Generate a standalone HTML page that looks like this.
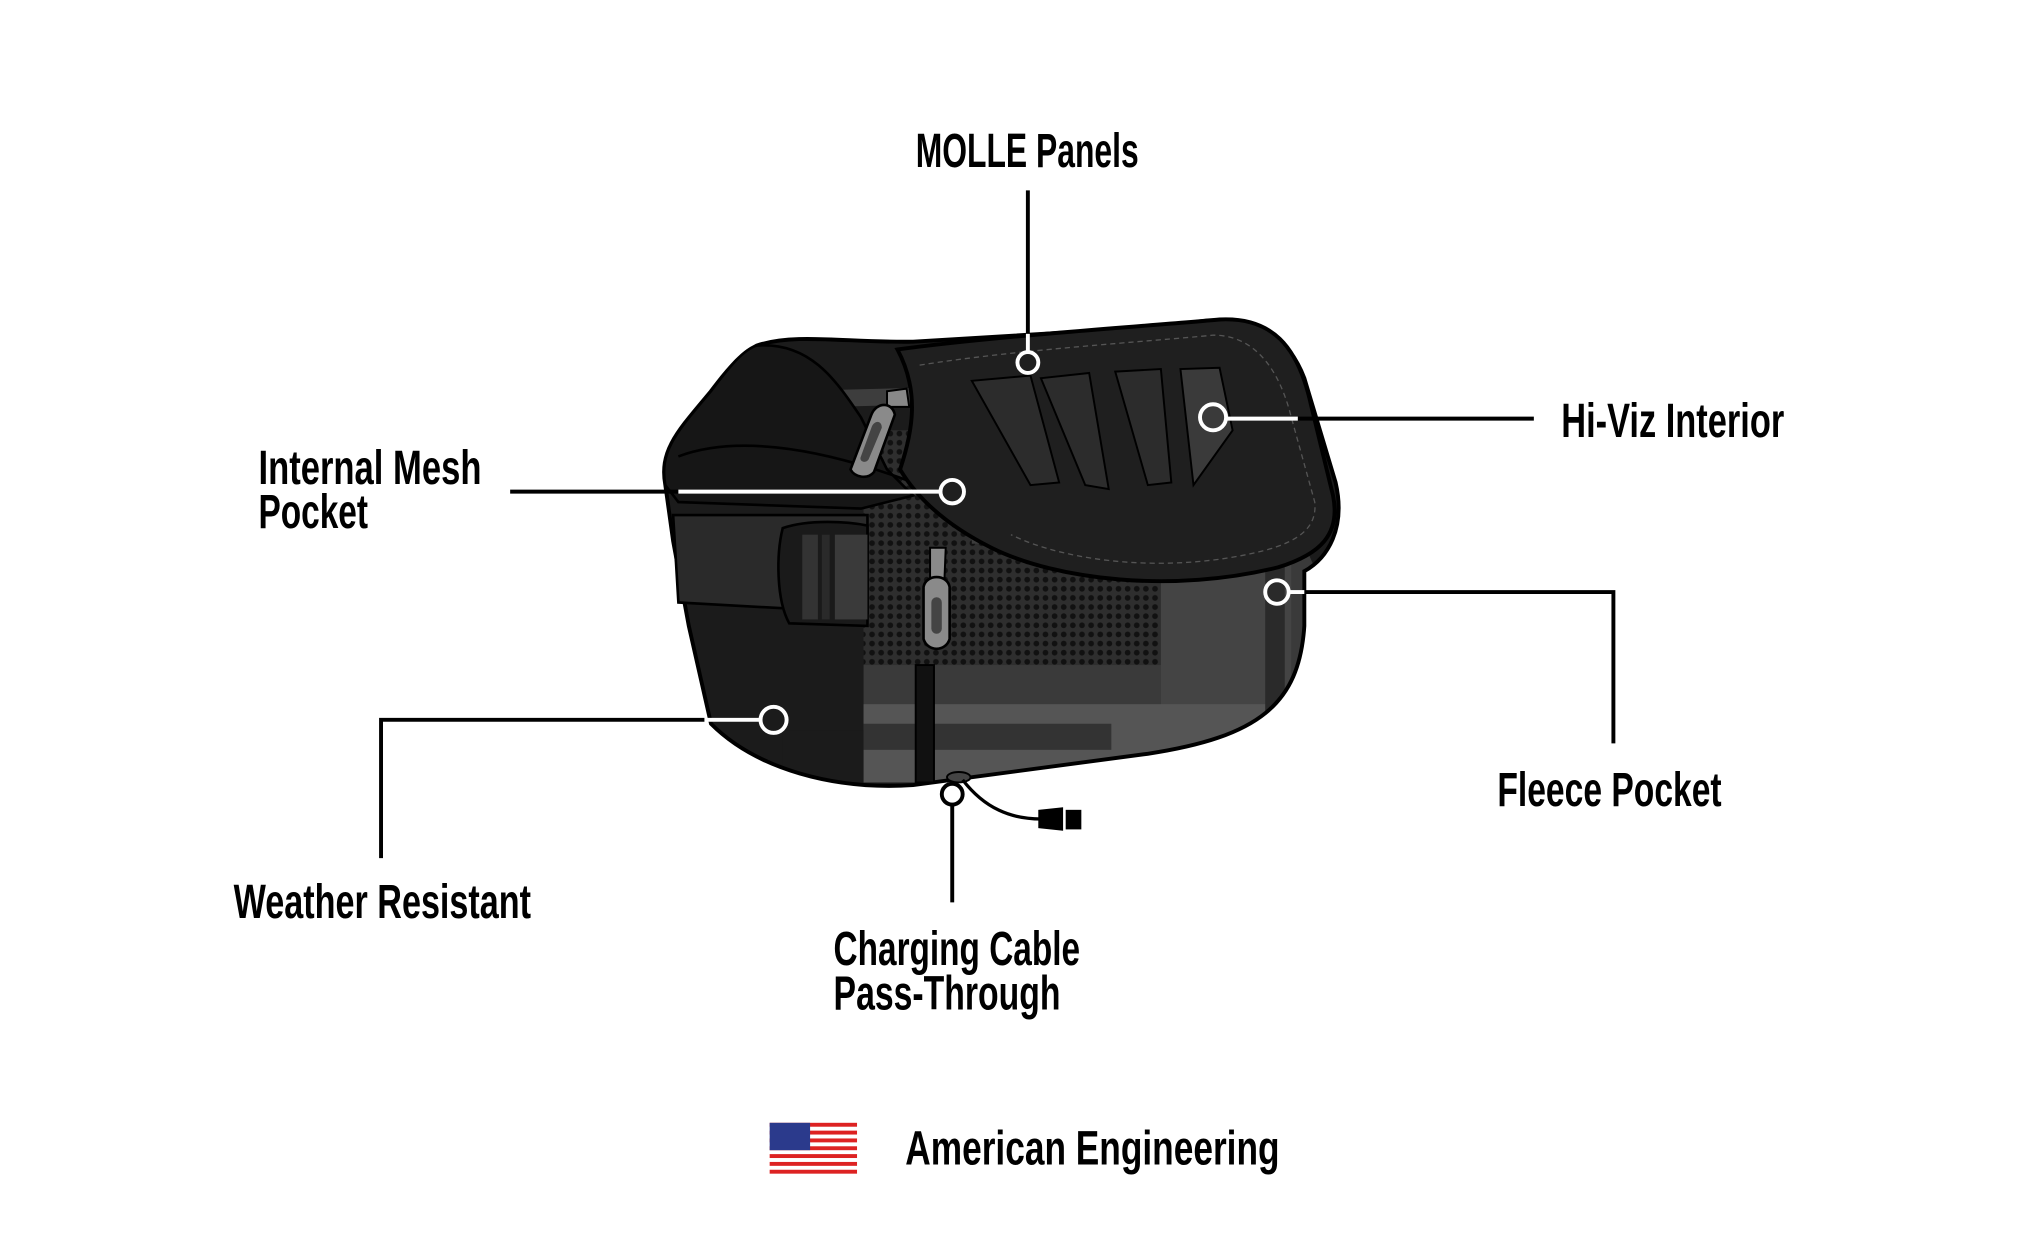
<!DOCTYPE html>
<html><head><meta charset="utf-8"><style>
html,body{margin:0;padding:0;background:#fff;}
svg{display:block;}
text{font-family:"Liberation Sans Narrow","Liberation Sans",sans-serif;font-weight:bold;fill:#000;font-size:37px;}
</style></head><body>
<svg width="2044" height="1248" viewBox="0 0 1567 957" xmlns="http://www.w3.org/2000/svg">
<defs>
<pattern id="mesh" width="7" height="7" patternUnits="userSpaceOnUse">
<rect width="7" height="7" fill="#2e2e2e"/><circle cx="3.5" cy="3.5" r="2.2" fill="#111"/>
</pattern>
<clipPath id="body">
<path d="M580,265 C610,255 650,263 700,262 L900,250 C950,238 985,250 1000,290 L1024,370 C1032,405 1018,428 1000,438 L1000,480 C996,540 965,565 880,578 L700,602 C640,606 580,590 545,555 L528,480 L516,415 L510,372 C505,345 520,330 545,300 C560,280 570,270 580,265 Z"/>
</clipPath>
</defs>
<!-- bag body -->
<path d="M580,265 C610,255 650,263 700,262 L900,250 C950,238 985,250 1000,290 L1024,370 C1032,405 1018,428 1000,438 L1000,480 C996,540 965,565 880,578 L700,602 C640,606 580,590 545,555 L528,480 L516,415 L510,372 C505,345 520,330 545,300 C560,280 570,270 580,265 Z" fill="#1b1b1b"/>
<g clip-path="url(#body)">
<path d="M662,400 L990,395 L1010,440 L1010,600 L662,600 Z" fill="#3a3a3a"/>
<rect x="662" y="330" width="230" height="180" fill="url(#mesh)"/>
<rect x="890" y="400" width="100" height="190" fill="#444"/>
<rect x="662" y="540" width="340" height="60" fill="#555"/>
<rect x="662" y="555" width="190" height="20" fill="#333"/>
<path d="M600,300 L990,290 L990,303 L600,313 Z" fill="#3d3d3d"/>
<path d="M745,405 L985,398 L985,410 L745,417 Z" fill="#3d3d3d"/>
<path d="M970,395 L985,395 L985,600 L970,600 Z" fill="#2a2a2a"/>
<rect x="600" y="560" width="62" height="50" fill="#1b1b1b"/>
</g>
<path d="M580,265 C610,255 650,263 700,262 L900,250 C950,238 985,250 1000,290 L1024,370 C1032,405 1018,428 1000,438 L1000,480 C996,540 965,565 880,578 L700,602 C640,606 580,590 545,555 L528,480 L516,415 L510,372 C505,345 520,330 545,300 C560,280 570,270 580,265 Z" fill="none" stroke="#000" stroke-width="3"/>
<!-- left lobe -->
<path d="M580,265 C620,262 640,290 660,320 L680,360 L700,380 L660,390 L520,385 L510,372 C505,345 520,330 545,300 C560,280 570,268 580,265 Z" fill="#161616" stroke="#000" stroke-width="2"/>
<path d="M520,350 C560,335 620,340 700,370" fill="none" stroke="#000" stroke-width="2"/>
<!-- flap -->
<path d="M688,268 C760,258 880,250 935,245 C975,243 995,265 1005,310 L1022,380 C1028,410 1012,425 980,435 C900,455 810,445 760,420 C730,405 705,385 690,360 C700,330 705,300 688,268 Z" fill="#1f1f1f" stroke="#000" stroke-width="3"/>
<path d="M705,280 C780,268 880,262 930,257 C960,257 980,280 990,320 L1008,385 C1010,405 995,415 970,422 C900,440 820,432 775,410" fill="none" stroke="#555" stroke-width="1" stroke-dasharray="4 3"/>
<!-- MOLLE slots -->
<path d="M745,292 L790,288 L812,370 L790,372 Z" fill="#2c2c2c" stroke="#000" stroke-width="1.5"/>
<path d="M798,290 L835,286 L850,375 L832,372 Z" fill="#2c2c2c" stroke="#000" stroke-width="1.5"/>
<path d="M855,285 L890,283 L898,370 L880,372 Z" fill="#2c2c2c" stroke="#000" stroke-width="1.5"/>
<path d="M905,283 L935,282 L945,330 L915,372 Z" fill="#3a3a3a" stroke="#000" stroke-width="1.5"/>
<!-- strap -->
<path d="M516,395 L665,395 L665,470 L520,462 Z" fill="#2a2a2a" stroke="#000" stroke-width="2"/>
<path d="M600,405 C620,398 650,400 665,403 L665,480 L605,478 C595,460 595,425 600,405 Z" fill="#1a1a1a" stroke="#000" stroke-width="2"/>
<rect x="615" y="410" width="12" height="65" fill="#333"/>
<rect x="630" y="410" width="6" height="65" fill="#2a2a2a"/>
<rect x="640" y="410" width="25" height="65" fill="#3a3a3a"/>
<rect x="702" y="510" width="14" height="90" fill="#111" stroke="#000" stroke-width="1.5"/>
<!-- zipper pulls -->
<path d="M680,300 L695,298 L697,312 L680,312 Z" fill="#888" stroke="#000" stroke-width="1.5"/>
<path d="M668,318 C672,308 684,308 686,318 L670,362 C665,368 655,366 652,360 Z" fill="#8a8a8a" stroke="#000" stroke-width="2"/>
<path d="M668,328 C670,322 676,322 676,328 L666,352 C664,356 658,354 660,350 Z" fill="#444"/>
<path d="M713,420 L725,420 L724,445 L713,445 Z" fill="#8a8a8a" stroke="#000" stroke-width="1.5"/>
<path d="M708,450 C710,440 726,440 728,450 L728,490 C725,500 711,500 708,490 Z" fill="#8a8a8a" stroke="#000" stroke-width="2"/>
<rect x="714" y="458" width="8" height="28" rx="4" fill="#444"/>
<!-- cable -->
<ellipse cx="735" cy="596" rx="9" ry="4" fill="#444" stroke="#000" stroke-width="1.5"/>
<path d="M738,598 C755,620 775,628 798,628" fill="none" stroke="#000" stroke-width="2.5"/>
<path d="M796,621 L815,619 L815,637 L796,635 Z" fill="#000"/>
<rect x="817" y="621" width="12" height="15" fill="#000"/>
<!-- callout lines -->
<g stroke="#000" stroke-width="3" fill="none">
<line x1="788" y1="146" x2="788" y2="256"/>
<line x1="995" y1="321" x2="1176" y2="321"/>
<line x1="391" y1="377" x2="520" y2="377"/>
<polyline points="1000,454 1237,454 1237,570"/>
<polyline points="292,658 292,552 540,552"/>
<line x1="730" y1="617" x2="730" y2="692"/>
</g>
<g stroke="#fff" stroke-width="3" fill="none">
<line x1="788" y1="256" x2="788" y2="270"/>
<line x1="939" y1="321" x2="995" y2="321"/>
<line x1="520" y1="377" x2="721" y2="377"/>
<line x1="988" y1="454" x2="1000" y2="454"/>
<line x1="540" y1="552" x2="583" y2="552"/>
<circle cx="788" cy="278" r="8"/>
<circle cx="930" cy="320" r="10"/>
<circle cx="730" cy="377" r="9"/>
<circle cx="979" cy="454" r="9"/>
<circle cx="593" cy="552" r="10"/>
</g>
<circle cx="730" cy="609" r="8" fill="#fff" stroke="#000" stroke-width="3"/>
<!-- labels -->
<text x="702" y="128" textLength="171" lengthAdjust="spacingAndGlyphs">MOLLE Panels</text>
<text x="1197" y="335" textLength="171" lengthAdjust="spacingAndGlyphs">Hi-Viz Interior</text>
<text x="198" y="371" textLength="171" lengthAdjust="spacingAndGlyphs">Internal Mesh</text>
<text x="198" y="405" textLength="84" lengthAdjust="spacingAndGlyphs">Pocket</text>
<text x="1148" y="618" textLength="172" lengthAdjust="spacingAndGlyphs">Fleece Pocket</text>
<text x="179" y="704" textLength="228" lengthAdjust="spacingAndGlyphs">Weather Resistant</text>
<text x="639" y="740" textLength="189" lengthAdjust="spacingAndGlyphs">Charging Cable</text>
<text x="639" y="774" textLength="174" lengthAdjust="spacingAndGlyphs">Pass-Through</text>
<text x="694" y="893" textLength="287" lengthAdjust="spacingAndGlyphs">American Engineering</text>
<!-- flag -->
<g>
<rect x="590" y="861" width="67" height="40" fill="#fff"/>
<rect x="590" y="861" width="67" height="3" fill="#d22"/>
<rect x="590" y="867" width="67" height="3" fill="#d22"/>
<rect x="590" y="873" width="67" height="3" fill="#d22"/>
<rect x="590" y="879" width="67" height="3" fill="#d22"/>
<rect x="590" y="885" width="67" height="3" fill="#d22"/>
<rect x="590" y="891" width="67" height="3" fill="#d22"/>
<rect x="590" y="897" width="67" height="3" fill="#d22"/>
<rect x="590" y="861" width="31" height="21" fill="#2b3a8c"/>
</g>
</svg>
</body></html>
